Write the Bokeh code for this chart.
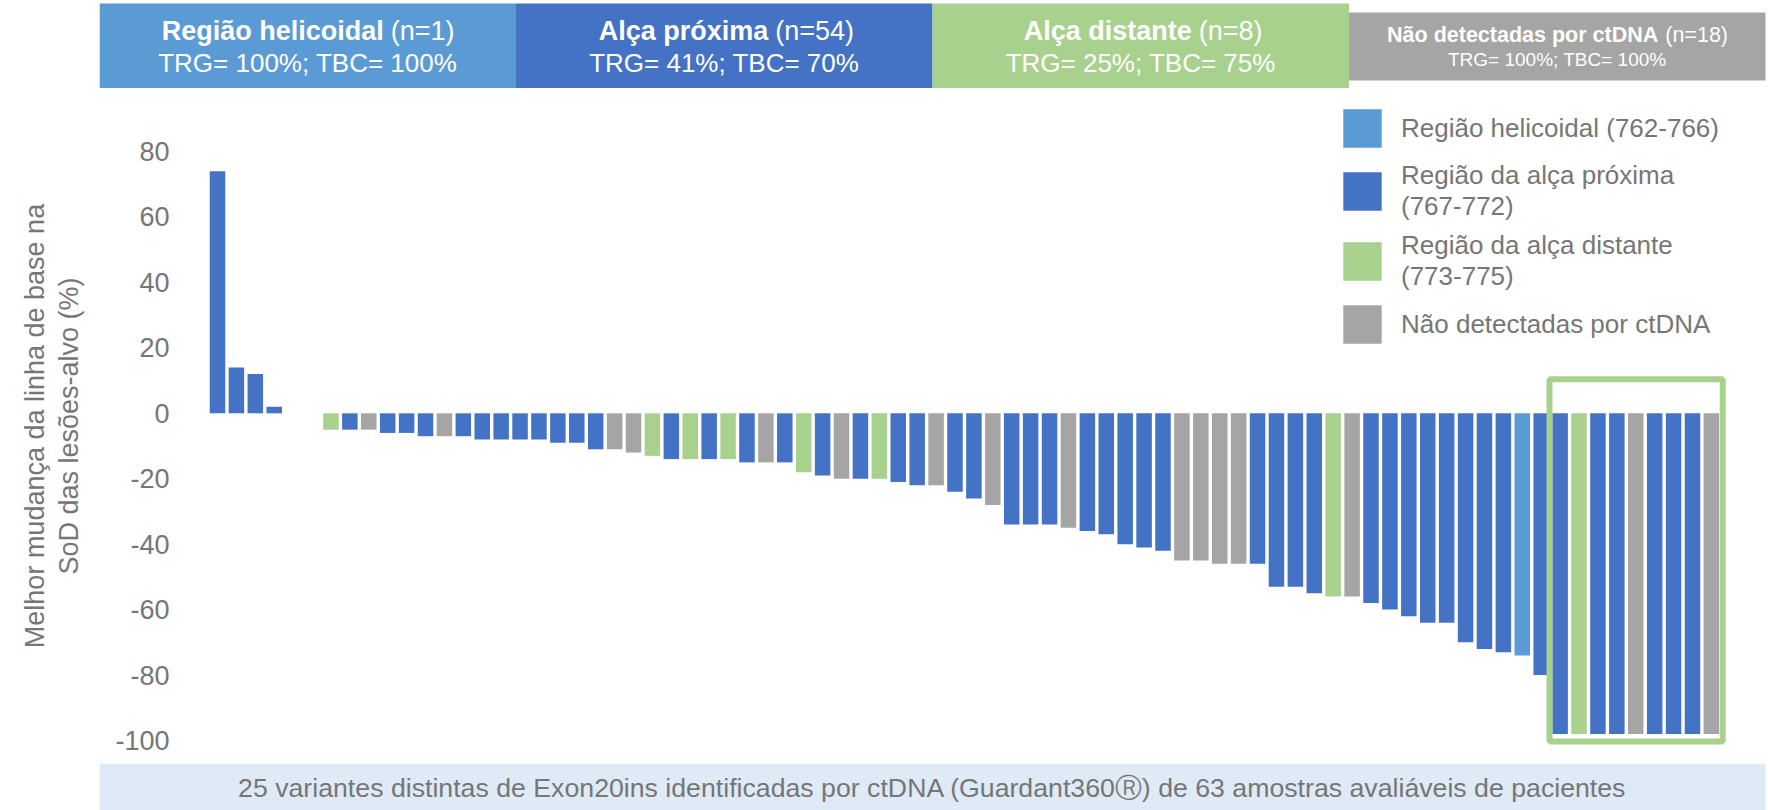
from bokeh.plotting import figure
from bokeh.models import (ColumnDataSource, Range1d, FixedTicker, BoxAnnotation, Legend,
                          LegendItem, NumeralTickFormatter)
from bokeh.layouts import column
from bokeh.embed import file_html
from bokeh.resources import INLINE
from bokeh.core.properties import value

# ---------------- data ----------------
group_names = ["Região helicoidal", "Alça próxima", "Alça distante", "Não detectadas por ctDNA"]
group_n = [1, 54, 8, 18]
group_trg = [100, 41, 25, 100]
group_tbc = [100, 70, 75, 100]

categories = ["H", "P", "D", "N"]
legend_labels = ["Região helicoidal (762-766)",
                 "Região da alça próxima\n(767-772)",
                 "Região da alça distante\n(773-775)",
                 "Não detectadas por ctDNA"]

# best % change from baseline, one value per patient slot ("" = empty slot)
best_change = [74, 14, 12, 2, None, None,
               -5, -5, -5, -6, -6, -7, -7, -7, -8, -8, -8, -8, -9, -9,
               -11, -11, -12, -13, -14, -14, -14, -14, -15, -15, -15,
               -18, -19, -20, -20, -20, -21, -22, -22, -24, -26, -28,
               -34, -34, -34, -35, -36, -37, -40, -41, -42, -45, -45, -46, -46, -46,
               -53, -53, -55, -56, -56, -58, -60, -62, -64, -64, -70, -72, -73, -74, -80,
               -98, -98, -98, -98, -98, -98, -98, -98, -98]
bar_region = ["P", "P", "P", "P", "", "",
              "D", "P", "N", "P", "P", "P", "N", "P", "P", "P", "P", "P", "P", "P",
              "P", "N", "N", "D", "P", "D", "P", "D", "P", "N", "P",
              "D", "P", "N", "P", "D", "P", "P", "N", "P", "P", "N",
              "P", "P", "P", "N", "P", "P", "P", "P", "P", "N", "N", "N", "N", "P",
              "P", "P", "P", "D", "N", "P", "P", "P", "P", "P", "P", "P", "P", "H", "P",
              "P", "D", "P", "P", "N", "P", "P", "P", "N"]
highlight_count = 9
y_ticks = [-100, -80, -60, -40, -20, 0, 20, 40, 60, 80]

footer_text = ("25 variantes distintas de Exon20ins identificadas por ctDNA "
               "(Guardant360\u24c7) de 63 amostras avaliáveis de pacientes")

# ---------------- styles ----------------
COLORS = {"H": "#5B9BD5", "P": "#4472C4", "D": "#A9D18E", "N": "#A5A5A5"}
TXT = "#767676"
FONT = "Liberation Sans"
W = 1768
LEFT = 99          # left edge of header / plot area / footer
HDR_H = 88
MAIN_H = 675
FT_H = 47


def bare(fig):
    fig.grid.visible = False
    fig.outline_line_color = None
    return fig


# ---------------- header ----------------
hdr = bare(figure(width=W, height=HDR_H, x_range=Range1d(LEFT, W), y_range=Range1d(HDR_H, 0),
                  output_backend="svg", toolbar_location=None,
                  min_border_left=LEFT, min_border_right=0, min_border_top=0, min_border_bottom=0,
                  x_axis_location=None, y_axis_location=None))
bw = (1765 - LEFT) / 4
lefts = [LEFT + i * bw for i in range(4)]
rights = [l + bw for l in lefts]
centers = [l + bw / 2 for l in lefts]
tops = [3, 3, 3, 12]
bottoms = [HDR_H, HDR_H, HDR_H, 80]
hdr.quad(left=lefts, right=rights, top=tops, bottom=bottoms,
         fill_color=[COLORS[c] for c in categories], line_color=None)

split_off = [76, 44, 51, 101]
line1_y = [30, 30, 30, 34]
line2_y = [62, 62, 62, 59]
sizes1 = ["27px", "27px", "27px", "21.5px"]
sizes2 = ["26px", "26px", "26px", "19px"]
for i in range(4):
    sx = centers[i] + split_off[i]
    hdr.text(x=[sx], y=[line1_y[i]], text=[group_names[i]], text_align="right",
             text_baseline="middle", text_color="white", text_font=value(FONT),
             text_font_style="bold", text_font_size=sizes1[i])
    hdr.text(x=[sx + 7], y=[line1_y[i]], text=[f"(n={group_n[i]})"], text_align="left",
             text_baseline="middle", text_color="white", text_font=value(FONT),
             text_font_size=sizes1[i])
    hdr.text(x=[centers[i]], y=[line2_y[i]],
             text=[f"TRG= {group_trg[i]}%; TBC= {group_tbc[i]}%"], text_align="center",
             text_baseline="middle", text_color="white", text_font=value(FONT),
             text_font_size=sizes2[i])

# ---------------- main chart ----------------
p = bare(figure(width=W, height=MAIN_H, x_range=Range1d(-6.240, 82.02),
                y_range=Range1d(-107.03, 99.27),
                output_backend="svg", toolbar_location=None,
                min_border_left=LEFT, min_border_right=0, min_border_top=0, min_border_bottom=0,
                x_axis_location=None))

renderers = {}
for cat in categories:
    xs = [i for i, r in enumerate(bar_region) if r == cat]
    ys = [best_change[i] for i in xs]
    src = ColumnDataSource(dict(x=xs, top=ys))
    renderers[cat] = p.vbar(x="x", top="top", bottom=0, width=0.82, source=src,
                            fill_color=COLORS[cat], line_color=None)

ax = p.yaxis[0]
ax.ticker = FixedTicker(ticks=y_ticks)
ax.formatter = NumeralTickFormatter(format="0")
ax.axis_line_color = None
ax.major_tick_line_color = None
ax.major_tick_out = 0
ax.major_tick_in = 0
ax.minor_tick_line_color = None
ax.major_label_text_font = FONT
ax.major_label_text_font_size = "27px"
ax.major_label_text_color = TXT
ax.major_label_standoff = -70
ax.axis_label = "Melhor mudança da linha de base na\nSoD das lesões-alvo (%)"
ax.axis_label_text_font = FONT
ax.axis_label_text_font_size = "27px"
ax.axis_label_text_font_style = "normal"
ax.axis_label_text_color = TXT
ax.axis_label_text_line_height = 1.15
ax.axis_label_standoff = 28

n = len(best_change)
first_hl = n - highlight_count
p.add_layout(BoxAnnotation(left=first_hl - 0.56, right=n - 1 + 0.6, top=10.4, bottom=-100.3,
                           fill_alpha=0, line_color=COLORS["D"], line_alpha=1, line_width=6))

legend = Legend(items=[LegendItem(label=lab, renderers=[renderers[c]])
                       for c, lab in zip(categories, legend_labels)],
                location=(1239, 415), orientation="vertical",
                glyph_width=48, glyph_height=48, label_standoff=15, spacing=8,
                padding=0, margin=0, border_line_color=None, background_fill_alpha=0,
                label_text_font=FONT, label_text_font_size="26px", label_text_color=TXT,
                label_text_line_height=1.2)
p.add_layout(legend)

# ---------------- footer ----------------
ft = bare(figure(width=W, height=FT_H, x_range=Range1d(LEFT, W), y_range=Range1d(810, 810 - FT_H),
                 output_backend="svg", toolbar_location=None,
                 min_border_left=LEFT, min_border_right=0, min_border_top=0, min_border_bottom=0,
                 x_axis_location=None, y_axis_location=None))
ft.quad(left=[LEFT], right=[1765], top=[810 - FT_H], bottom=[810], fill_color="#DEEAF6",
        line_color=None)
ft.text(x=[(LEFT + 1765) / 2], y=[787], text=[footer_text], text_align="center",
        text_baseline="middle", text_color=TXT, text_font=value(FONT), text_font_size="26.7px")

layout = column(hdr, p, ft, spacing=0)
open("out.html", "w").write(file_html(layout, INLINE))
